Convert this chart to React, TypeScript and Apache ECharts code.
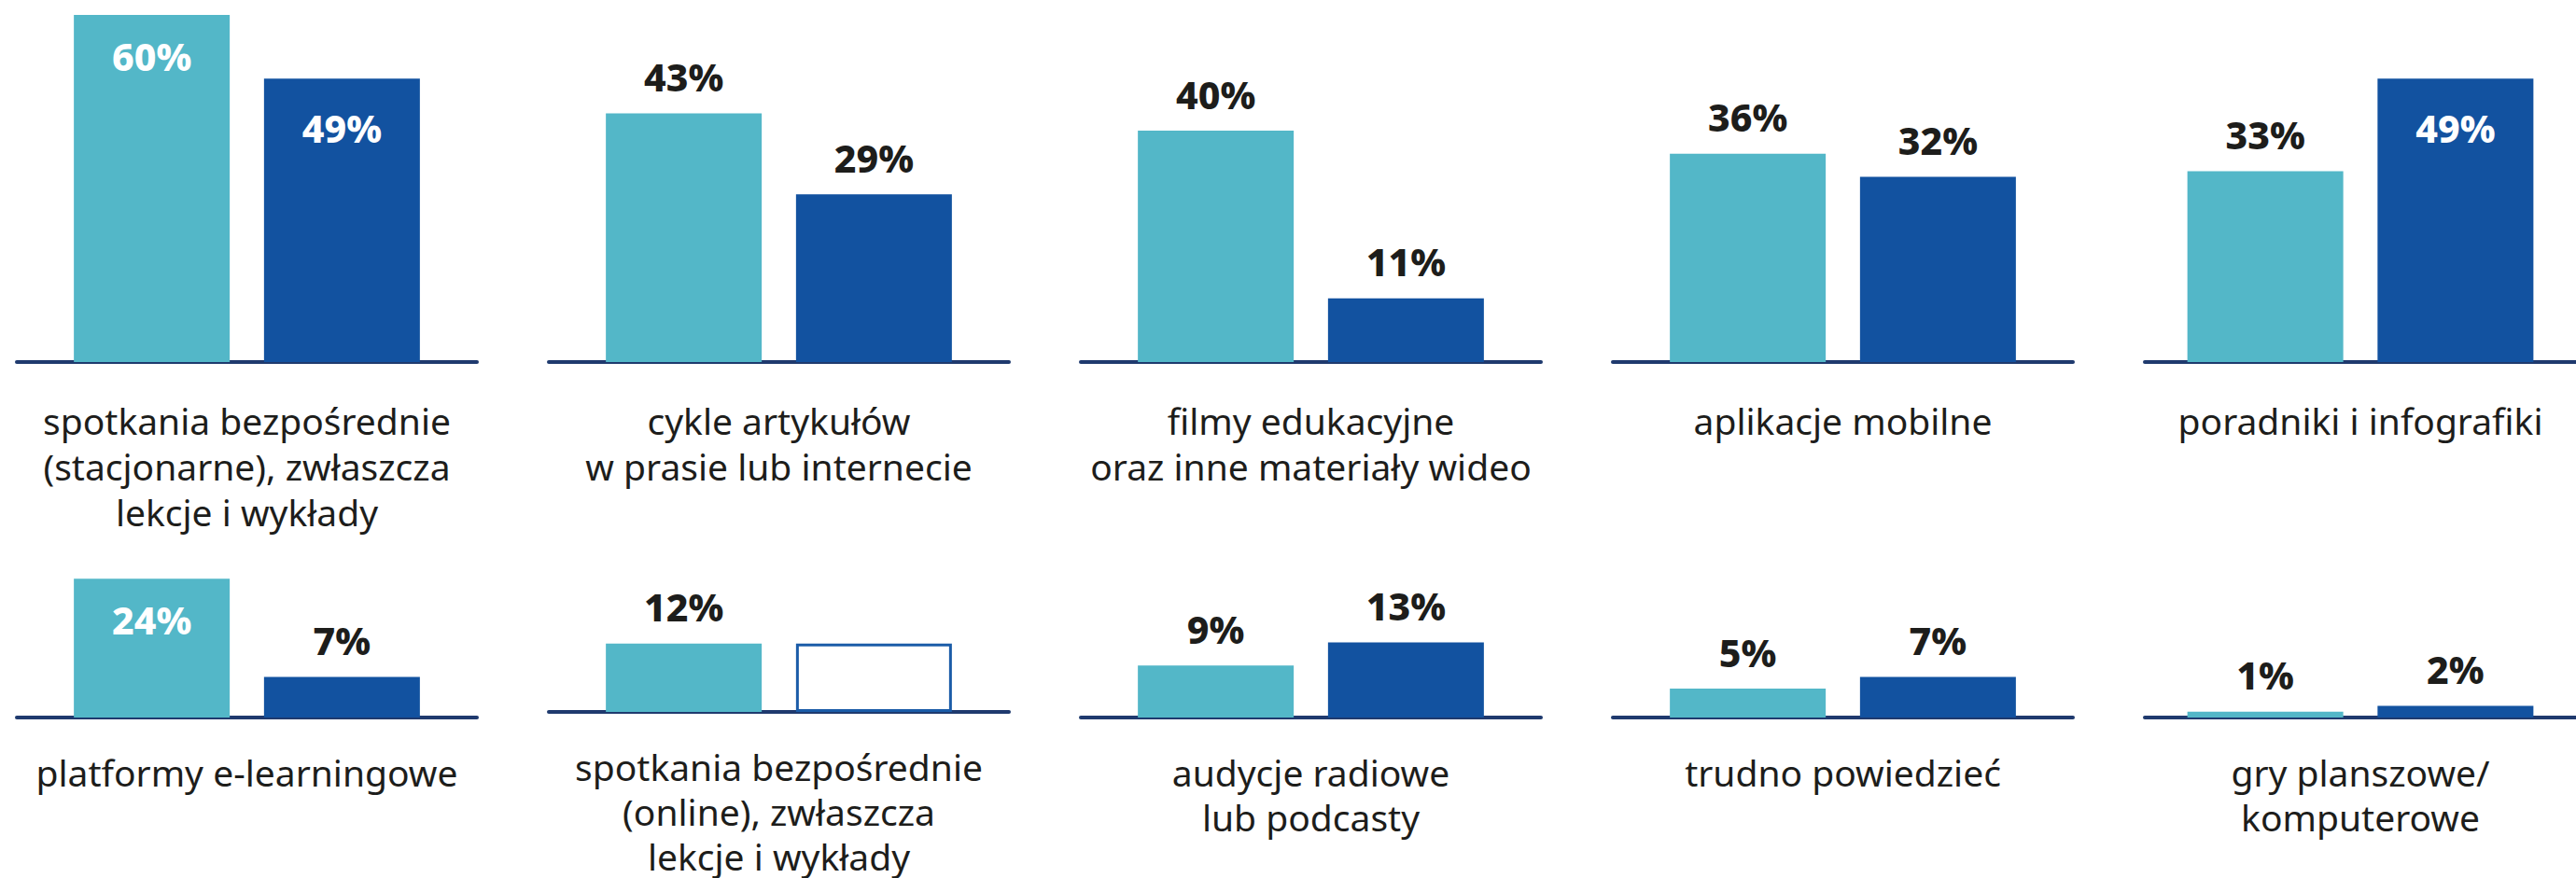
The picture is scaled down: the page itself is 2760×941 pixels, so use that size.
import React, { useEffect, useRef } from "react";
import * as echarts from "echarts";

const categories = [
  "spotkania bezpośrednie\n(stacjonarne), zwłaszcza\nlekcje i wykłady",
  "cykle artykułów\nw prasie lub internecie",
  "filmy edukacyjne\noraz inne materiały wideo",
  "aplikacje mobilne",
  "poradniki i infografiki",
  "platformy e-learningowe",
  "spotkania bezpośrednie\n(online), zwłaszcza\nlekcje i wykłady",
  "audycje radiowe\nlub podcasty",
  "trudno powiedzieć",
  "gry planszowe/\nkomputerowe",
];
const lightValues = [60, 43, 40, 36, 33, 24, 12, 9, 5, 1];
const darkValues: (number | null)[] = [49, 29, 11, 32, 49, 7, null, 13, 7, 2];
// empty outlined box drawn where the dark series has no value
const darkPlaceholder: (number | null)[] = [null, null, null, null, null, null, 12, null, null, null];

const LIGHT = "#53B7C8";
const DARK = "#1252A0";
const LINE = "#1F3A6E";
const TEXT = "#1D1D1B";
const FONT = "'Noto Sans', sans-serif";

const colLeft = [18, 588, 1158, 1728, 2298];
const colWidth = 493;
const barW = 167;
const catFont = 39;
const rowTop = [16, 397];
const gridHeight = 372;
const labelMargin = [20, 16];
const labelLineHeight = [49, 48];

export default function App() {
  const ref = useRef<HTMLDivElement>(null);
  useEffect(() => {
    const chart = echarts.init(ref.current!, null, { renderer: "svg" });
    const grid: any[] = [];
    const xAxis: any[] = [];
    const yAxis: any[] = [];
    const series: any[] = [];
    const rowMax = [
      Math.max(...lightValues.slice(0, 5), ...(darkValues.slice(0, 5).filter((v) => v != null) as number[])),
      Math.max(...lightValues.slice(5), ...(darkValues.slice(5).filter((v) => v != null) as number[])),
    ];
    const labelFor = (v: number, row: number, light: boolean) => {
      const inside = v > 0.75 * rowMax[row];
      return {
        show: true,
        formatter: "{c}%",
        position: inside ? "insideTop" : "top",
        distance: inside ? (light ? 23 : 32) : 19,
        color: inside ? "#FFFFFF" : TEXT,
        fontFamily: FONT,
        fontWeight: 800,
        fontSize: 41,
      };
    };
    categories.forEach((cat, i) => {
      const row = Math.floor(i / 5);
      const col = i % 5;
      grid.push({ left: colLeft[col], top: rowTop[row], width: colWidth, height: gridHeight });
      xAxis.push({
        type: "category",
        gridIndex: i,
        data: [cat],
        offset: 18,
        axisLine: { lineStyle: { color: LINE, width: 4, cap: "round" } },
        axisTick: { show: false },
        axisLabel: {
          interval: 0,
          margin: labelMargin[row],
          fontSize: catFont,
          lineHeight: labelLineHeight[row],
          color: TEXT,
          fontFamily: FONT,
          align: "center",
        },
      });
      yAxis.push({ type: "value", gridIndex: i, min: 0, max: 60, show: false });
      const lv = lightValues[i];
      series.push({
        type: "bar",
        xAxisIndex: i,
        yAxisIndex: i,
        barWidth: barW,
        barGap: "22%",
        itemStyle: { color: LIGHT },
        data: [{ value: lv, label: labelFor(lv, row, true) }],
      });
      const dv = darkValues[i];
      const ph = darkPlaceholder[i];
      let dItem: any;
      if (dv != null) {
        dItem = { value: dv, label: labelFor(dv, row, false) };
      } else if (ph != null) {
        dItem = {
          value: ph,
          itemStyle: { color: "#FFFFFF", borderColor: "#1B5CA8", borderWidth: 3 },
          label: { show: false },
        };
      } else {
        dItem = { value: null };
      }
      series.push({
        type: "bar",
        xAxisIndex: i,
        yAxisIndex: i,
        barWidth: barW,
        barGap: "22%",
        itemStyle: { color: DARK },
        data: [dItem],
      });
    });
    chart.setOption({
      animation: false,
      backgroundColor: "#FFFFFF",
      grid,
      xAxis,
      yAxis,
      series,
    });
    return () => chart.dispose();
  }, []);
  return (
    <div
      ref={ref}
      style={{ position: "absolute", left: 0, top: 0, width: 2760, height: 941 }}
    />
  );
}
